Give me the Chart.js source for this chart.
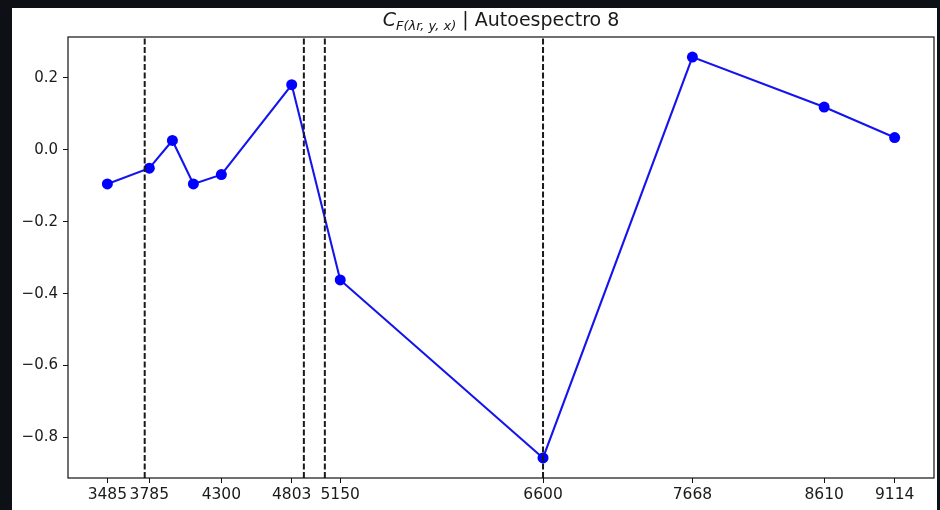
<!DOCTYPE html>
<html>
<head>
<meta charset="utf-8">
<script src="https://cdn.jsdelivr.net/npm/chart.js@4.4.1/dist/chart.umd.min.js"></script>
<style>
  html, body { margin: 0; padding: 0; background: #0d1015; }
  #wrap { width: 940px; height: 510px; }
</style>
</head>
<body>
<div id="wrap"><canvas id="c" width="940" height="510"></canvas></div>
<script>
// Filter pivot wavelengths (Å) and the autospectrum value at each one
const wavelengths = [3485, 3785, 3950, 4100, 4300, 4803, 5150, 6600, 7668, 8610, 9114];
const values = [-0.095, -0.051, 0.026, -0.095, -0.069, 0.181, -0.362, -0.857, 0.258, 0.119, 0.034];

// Wavelengths labelled on the x axis
const tickWavelengths = [3485, 3785, 4300, 4803, 5150, 6600, 7668, 8610, 9114];
// Labelled y values
const yTicks = [-0.8, -0.6, -0.4, -0.2, 0.0, 0.2];
// Emission lines marked with dashed verticals
const lineMarkers = [3752, 4890, 5040, 6600];

// Axis limits with a 5% margin around the data
const xSpan = Math.max(...wavelengths) - Math.min(...wavelengths);
const xMin = Math.min(...wavelengths) - 0.05 * xSpan;
const xMax = Math.max(...wavelengths) + 0.05 * xSpan;
const ySpan = Math.max(...values) - Math.min(...values);
const yMin = Math.min(...values) - 0.05 * ySpan;
const yMax = Math.max(...values) + 0.05 * ySpan;

const markerSets = lineMarkers.map(w => ({
  data: [{x: w, y: yMin}, {x: w, y: yMax}],
  borderColor: '#1a1a1a',
  borderWidth: 2,
  borderDash: [6, 2.5],
  pointRadius: 0,
  tension: 0
}));

const spectrumSet = {
  data: wavelengths.map((w, i) => ({x: w, y: values[i]})),
  borderColor: '#1414ee',
  borderWidth: 2.1,
  pointRadius: 5.5,
  pointBackgroundColor: '#0000ff',
  pointBorderWidth: 0,
  tension: 0
};

const framePlugin = {
  id: 'frame',
  beforeDraw(chart) {
    const ctx = chart.ctx;
    ctx.save();
    ctx.fillStyle = '#0d1015';
    ctx.fillRect(0, 0, chart.width, chart.height);
    ctx.fillStyle = '#ffffff';
    ctx.fillRect(12, 8, 925, chart.height - 8);
    ctx.restore();
  },
  afterDraw(chart) {
    const ctx = chart.ctx;
    const a = chart.chartArea;
    ctx.save();
    ctx.strokeStyle = '#111';
    ctx.lineWidth = 1.2;
    ctx.strokeRect(a.left, a.top, a.right - a.left, a.bottom - a.top);

    // Title: C with a math subscript, then the spectrum name
    const big = '19px "DejaVu Sans"';
    const bigIt = 'oblique 19px "DejaVu Sans"';
    const smallIt = 'oblique 13px "DejaVu Sans"';
    const parts = [
      {t: 'C', f: bigIt, dy: 0},
      {t: 'F(λr, y, x)', f: smallIt, dy: 4},
      {t: ' | Autoespectro 8', f: big, dy: 0}
    ];
    let total = 0;
    parts.forEach(p => { ctx.font = p.f; p.w = ctx.measureText(p.t).width; total += p.w; });
    let x = (a.left + a.right) / 2 - total / 2;
    const base = 26;
    ctx.fillStyle = '#1a1a1a';
    ctx.textBaseline = 'alphabetic';
    ctx.textAlign = 'left';
    parts.forEach(p => { ctx.font = p.f; ctx.fillText(p.t, x, base + p.dy); x += p.w; });
    ctx.restore();
  }
};

const fmtY = v => (v < 0 ? '\u2212' : '') + Math.abs(v).toFixed(1);

new Chart(document.getElementById('c'), {
  type: 'line',
  data: { datasets: [...markerSets, spectrumSet] },
  options: {
    responsive: false,
    animation: false,
    devicePixelRatio: 1,
    layout: { padding: { left: 0, right: 6, top: 37, bottom: 0 } },
    plugins: { legend: { display: false }, tooltip: { enabled: false }, title: { display: false } },
    scales: {
      x: {
        type: 'linear',
        min: xMin,
        max: xMax,
        border: { display: false },
        grid: { drawOnChartArea: false, drawTicks: true, tickLength: 5, color: '#111', tickWidth: 1 },
        afterBuildTicks: s => { s.ticks = tickWavelengths.map(v => ({value: v})); },
        afterFit: s => { s.height = 32; },
        ticks: {
          autoSkip: false,
          maxRotation: 0,
          padding: 3,
          color: '#1a1a1a',
          font: { family: 'DejaVu Sans', size: 15.5 },
          callback: v => String(v)
        }
      },
      y: {
        type: 'linear',
        min: yMin,
        max: yMax,
        border: { display: false },
        grid: { drawOnChartArea: false, drawTicks: true, tickLength: 5, color: '#111', tickWidth: 1 },
        afterBuildTicks: s => { s.ticks = yTicks.map(v => ({value: v})); },
        afterFit: s => { s.width = 68; },
        ticks: {
          padding: 5,
          color: '#1a1a1a',
          font: { family: 'DejaVu Sans', size: 15 },
          callback: v => fmtY(v)
        }
      }
    }
  },
  plugins: [framePlugin]
});
</script>
</body>
</html>
